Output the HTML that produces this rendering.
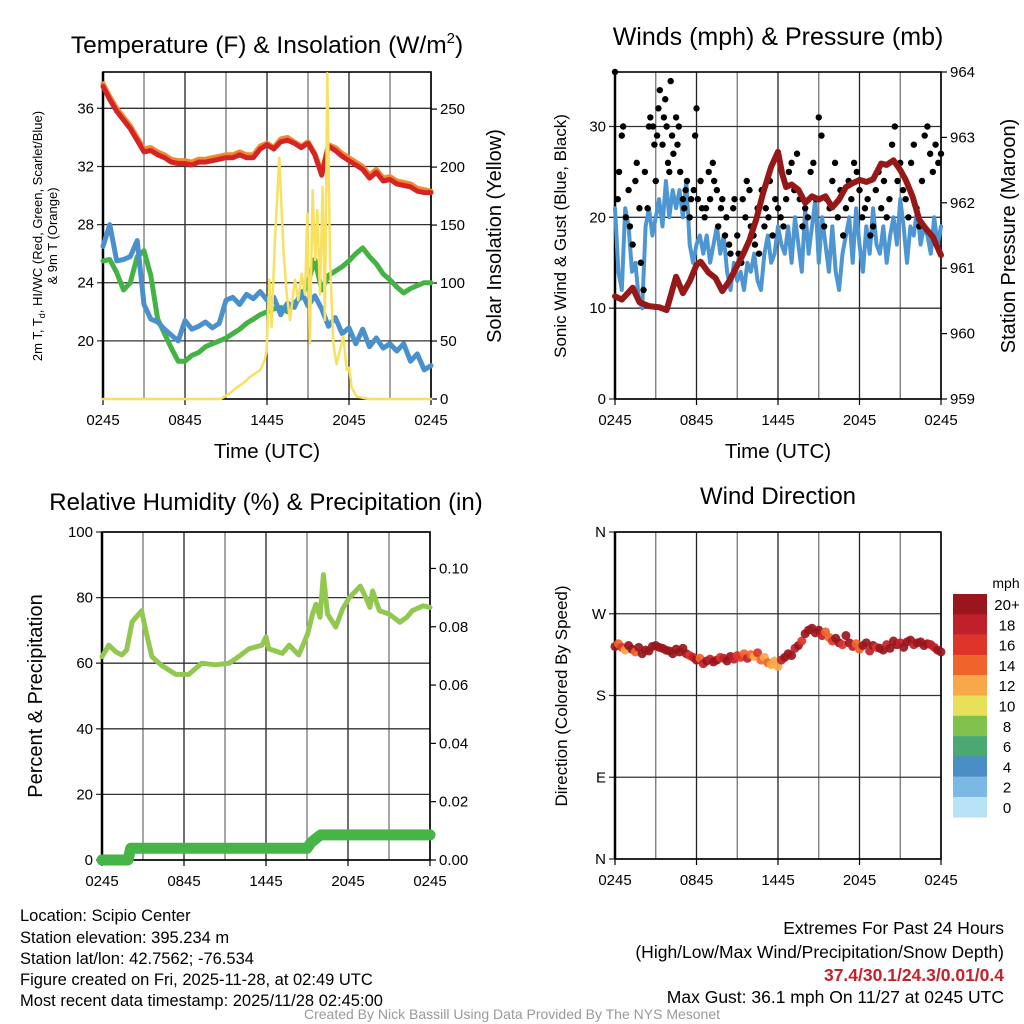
<!DOCTYPE html>
<html><head><meta charset="utf-8"><style>
html,body{margin:0;padding:0;background:#fff;}
svg{display:block;font-family:"Liberation Sans",Arial,sans-serif;}
</style></head><body>
<svg id="fig" width="1024" height="1024" viewBox="0 0 1024 1024" xmlns="http://www.w3.org/2000/svg">
<rect width="1024" height="1024" fill="#fff"/>
<g id="p1"></g>
<g id="p2"></g>
<g id="p3"></g>
<g id="p4"></g>

<text x="267" y="53" font-size="24.5" text-anchor="middle">Temperature (F) &amp; Insolation (W/m<tspan font-size="15" dy="-10">2</tspan><tspan dy="10">)</tspan></text>
<text x="778" y="45" font-size="25" text-anchor="middle">Winds (mph) &amp; Pressure (mb)</text>
<text x="266" y="510" font-size="24" text-anchor="middle">Relative Humidity (%) &amp; Precipitation (in)</text>
<text x="778" y="504" font-size="24" text-anchor="middle">Wind Direction</text>

<text transform="translate(42,236) rotate(-90)" font-size="13" text-anchor="middle">2m T, T<tspan font-size="9" dy="3">d</tspan><tspan dy="-3">, HI/WC (Red, Green, Scarlet/Blue)</tspan></text>
<text transform="translate(57,236) rotate(-90)" font-size="13" text-anchor="middle">&amp; 9m T (Orange)</text>
<text transform="translate(501,236) rotate(-90)" font-size="20" text-anchor="middle">Solar Insolation (Yellow)</text>
<text transform="translate(566,236) rotate(-90)" font-size="17" text-anchor="middle">Sonic Wind &amp; Gust (Blue, Black)</text>
<text transform="translate(1015,236) rotate(-90)" font-size="20" text-anchor="middle">Station Pressure (Maroon)</text>
<text transform="translate(42,696) rotate(-90)" font-size="20" text-anchor="middle">Percent &amp; Precipitation</text>
<text transform="translate(567,696) rotate(-90)" font-size="17" text-anchor="middle">Direction (Colored By Speed)</text>
<text x="267" y="458" font-size="20.5" text-anchor="middle">Time (UTC)</text>
<text x="778" y="458" font-size="20.5" text-anchor="middle">Time (UTC)</text>

<g font-size="16.5">
<text x="20" y="921">Location: Scipio Center</text>
<text x="20" y="943">Station elevation: 395.234 m</text>
<text x="20" y="964">Station lat/lon: 42.7562; -76.534</text>
<text x="20" y="985">Figure created on Fri, 2025-11-28, at 02:49 UTC</text>
<text x="20" y="1006">Most recent data timestamp: 2025/11/28 02:45:00</text>
</g>
<g font-size="17.5" text-anchor="end">
<text x="1004" y="934">Extremes For Past 24 Hours</text>
<text x="1004" y="958">(High/Low/Max Wind/Precipitation/Snow Depth)</text>
<text x="1004" y="981" fill="#c8202a" font-weight="bold">37.4/30.1/24.3/0.01/0.4</text>
<text x="1004" y="1003">Max Gust: 36.1 mph On 11/27 at 0245 UTC</text>
</g>
<text x="512" y="1019" font-size="14" fill="#999" text-anchor="middle">Created By Nick Bassill Using Data Provided By The NYS Mesonet</text>
</svg>
<script>
// ---------- data ----------
const hours30 = [0,0.5,1,1.5,2,2.5,3,3.5,4,4.5,5,5.5,6,6.5,7,7.5,8,8.5,9,9.5,10,10.5,11,11.5,12,12.5,13,13.5,14,14.5,15,15.5,16,16.5,17,17.5,18,18.5,19,19.5,20,20.5,21,21.5,22,22.5,23,23.5,24];
const tempRed = [37.5,36.6,35.8,35.2,34.6,33.8,33.0,33.1,32.8,32.6,32.3,32.2,32.2,32.1,32.3,32.3,32.4,32.5,32.6,32.6,32.8,32.6,32.6,33.2,33.5,33.2,33.7,33.8,33.6,33.3,33.6,32.8,31.4,33.4,33.1,32.7,32.4,32.1,31.8,31.2,31.6,31.0,31.1,30.8,30.7,30.6,30.3,30.2,30.2];
const tempOrange = [37.7,36.8,36.0,35.4,34.8,34.0,33.2,33.3,33.0,32.8,32.5,32.4,32.4,32.3,32.5,32.5,32.6,32.7,32.8,32.8,33.0,32.8,32.8,33.4,33.6,33.3,33.9,34.0,33.7,33.4,33.7,32.9,31.6,33.5,33.3,32.9,32.6,32.3,32.0,31.4,31.8,31.2,31.3,31.0,30.9,30.8,30.5,30.4,30.3];
const tempBlue = [26.5,28.0,25.5,25.6,25.8,26.9,22.5,21.5,21.3,20.8,20.4,20.0,21.4,20.8,21.0,21.3,20.9,21.2,22.8,23.0,22.5,23.2,22.9,23.4,22.8,23.0,21.8,22.6,22.3,23.4,22.4,23.1,22.2,21.0,21.6,20.5,20.9,19.8,20.8,19.6,20.2,19.5,19.8,19.3,19.8,18.6,19.1,18.0,18.3];
const tempGreen = [25.5,25.6,24.7,23.5,24.0,25.8,26.2,24.5,21.5,20.5,19.5,18.6,18.6,19.0,19.2,19.6,19.8,20.0,20.2,20.5,20.8,21.2,21.5,21.8,22.0,22.2,22.3,22.0,22.6,23.0,24.0,25.6,23.5,24.5,24.8,25.1,25.5,26.0,26.4,25.8,25.3,24.6,24.2,23.7,23.3,23.6,23.8,24.0,24.0];
const solarT = [0,8.6,9.29,9.8,10.3,10.75,11.5,11.85,11.97,12.17,12.34,12.58,12.9,13.19,13.44,13.68,14.05,14.29,14.53,14.78,14.95,15.14,15.34,15.53,15.68,15.88,16.07,16.24,16.41,16.61,16.85,17.09,17.58,17.83,18.02,18.19,18.56,19.5,24];
const solarV = [0,0,5,10,14,19,25,34,42,103,62,137,208,131,91,68,103,85,108,90,160,48,180,120,163,90,183,68,281,120,48,30,54,25,27,10,2,0,0];

const wind15 = [21,14,12,21,19,14,15,11,10,19,21,18,20,22,19,24,20,23,21,23,20,24,17,15,17,18,16,18,15,17,19,16,18,14,12,15,13,14,12,15,14,16,13,12,16,18,15,16,19,17,16,19,15,20,17,14,21,16,19,22,15,20,17,14,19,14,12,16,18,20,15,21,17,14,19,16,21,17,16,19,15,18,20,17,22,19,15,19,18,21,17,19,18,16,20,17,19];
const gustT = [0,0.2,0.3,0.5,0.6,0.8,1.0,1.1,1.3,1.5,1.6,1.8,1.9,2.1,2.2,2.4,2.5,2.6,2.8,2.9,3.0,3.1,3.2,3.3,3.5,3.6,3.7,3.8,3.9,4.0,4.1,4.2,4.3,4.5,4.6,4.7,4.8,5.0,5.1,5.2,5.3,5.5,5.6,5.8,5.9,6.0,6.1,6.3,6.4,6.6,6.7,6.9,7.0,7.2,7.3,7.5,7.6,7.8,7.9,8.1,8.2,8.4,8.5,8.7,8.8,9.0,9.1,9.3,9.4,9.6,9.7,9.9,10.0,10.2,10.3,10.5,10.6,10.8,11.0,11.1,11.3,11.4,11.6,11.8,12.0,12.2,12.4,12.6,12.8,13.0,13.2,13.4,13.6,13.8,14.0,14.2,14.4,14.6,14.8,15.0,15.2,15.4,15.6,15.8,16.0,16.2,16.4,16.6,16.8,17.0,17.2,17.4,17.6,17.8,18.0,18.2,18.4,18.6,18.8,19.0,19.2,19.4,19.6,19.8,20.0,20.2,20.4,20.6,20.8,21.0,21.2,21.4,21.6,21.8,22.0,22.2,22.4,22.6,22.8,23.0,23.2,23.4,23.6,23.8,24.0];
const gustV = [36,22,25,29,30,20,23,19,17,24,26,21,15,12,25,21,30,31,30,28,24,29,32,34,28,31,33,30,26,25,35,29,27,31,28,30,25,22,21,23,24,20,22,23,29,32,22,24,21,20,21,25,22,26,24,23,19,21,22,18,20,17,16,21,22,18,16,15,22,20,24,23,19,18,17,21,16,23,19,21,20,24,18,22,21,20,19,22,25,26,23,27,22,19,21,20,25,26,22,31,29,19,22,21,24,26,20,23,18,21,24,22,26,25,23,20,21,22,18,19,23,25,21,24,20,22,28,30,24,26,23,22,20,26,28,21,19,24,29,30,27,25,28,26,27];
const presT = [0,0.5,1.3,1.8,2.5,3.3,3.8,4.5,5.0,5.5,6.0,6.3,6.9,7.4,7.9,8.4,8.9,9.4,9.9,10.4,10.9,11.5,12.0,12.3,12.6,13.0,13.5,14.0,14.5,15.0,15.5,16.0,16.5,17.0,17.5,18.0,18.5,19.0,19.6,20.0,20.5,21.0,21.4,21.9,22.4,22.9,23.4,24.0];
const presV = [960.57,960.52,960.70,960.48,960.42,960.40,960.36,960.87,960.62,960.80,961.05,961.10,960.93,960.85,960.65,960.80,961.00,961.20,961.43,961.75,962.15,962.55,962.78,962.45,962.24,962.28,962.20,962.00,962.10,962.05,962.10,961.93,962.05,962.24,962.30,962.35,962.32,962.36,962.60,962.58,962.65,962.50,962.35,962.10,961.74,961.60,961.48,961.20];

const rhT = [0,0.5,1.0,1.45,1.8,2.2,2.9,3.2,3.65,4.4,5.4,6.35,7.3,8.3,9.3,10.0,10.75,11.7,12.0,12.2,13.2,13.7,14.4,15.05,15.4,15.66,15.95,16.2,16.5,17.1,17.6,18.1,18.9,19.3,19.6,19.8,20.3,21.0,21.8,22.3,22.7,23.5,24.0];
const rhV = [62,65.5,63.5,62.5,64,72.6,76,70,62,59.2,56.6,56.6,60,59.5,60,62,64.4,65.5,68,64.4,63,65.5,62.5,69,75,78,74,87,75,71,76.5,80,83.5,80,77,82,76,75,72.5,74,76,77.5,77];
const precipT = [0,1.9,2.1,15.0,15.3,15.7,16.0,24];
const precipV = [0,0,0.004,0.004,0.006,0.0075,0.0086,0.0086];

const dirT = [0,0.25,0.5,0.75,1,1.25,1.5,1.75,2,2.25,2.5,2.75,3,3.25,3.5,3.75,4,4.25,4.5,4.75,5,5.25,5.5,5.75,6,6.25,6.5,6.75,7,7.25,7.5,7.75,8,8.25,8.5,8.75,9,9.25,9.5,9.75,10,10.25,10.5,10.75,11,11.25,11.5,11.75,12,12.25,12.5,12.75,13,13.25,13.5,13.75,14,14.25,14.5,14.75,15,15.25,15.5,15.75,16,16.25,16.5,16.75,17,17.25,17.5,17.75,18,18.25,18.5,18.75,19,19.25,19.5,19.75,20,20.25,20.5,20.75,21,21.25,21.5,21.75,22,22.25,22.5,22.75,23,23.25,23.5,23.75,24];
const dirV = [234,237,233,230,235,231,228,233,226,230,229,234,235,233,232,230,229,226,231,228,232,226,224,222,219,221,215,218,220,217,219,222,221,218,223,220,224,222,226,221,225,223,227,219,222,216,214,218,212,219,222,226,224,232,235,240,248,252,254,249,252,246,250,244,240,243,238,236,246,238,234,237,231,235,238,229,235,233,232,230,236,232,240,236,238,233,239,241,236,238,239,235,237,236,233,230,228];
const dirS = [20,14,16,12,20,22,15,20,21,22,23,21,21,22,20,22,21,20,23,22,21,20,16,18,20,14,19,21,18,20,21,16,18,20,22,19,17,16,15,18,14,12,16,15,13,14,12,12,13,18,20,21,22,19,20,16,21,22,20,24,21,19,15,14,17,20,21,16,22,21,18,14,15,21,20,19,22,16,21,20,19,23,21,20,18,21,22,20,19,22,21,20,22,19,18,21,20];
const cbLabels = ["20+","18","16","14","12","10","8","6","4","2","0"];
const cbColors = ["#98161c","#c0202a","#de3429","#f0642b","#f8a848","#e8e058","#80c24c","#4aa872","#4a8ec6","#7cb8e4","#b8e2f6"];

const tLabels = ["0245","0845","1445","2045","0245"];
const p1LeftTicks = [20,24,28,32,36];
const p1RightTicks = [0,50,100,150,200,250];
const p2LeftTicks = [0,10,20,30];
const p2RightTicks = [959,960,961,962,963,964];
const p3LeftTicks = [0,20,40,60,80,100];
const p3RightTicks = [0,0.02,0.04,0.06,0.08,0.10];
const p4Ticks = [0,90,180,270,360];
const p4Labels = ["N","E","S","W","N"];

// ---------- helpers ----------
const NS="http://www.w3.org/2000/svg";
function mk(parent,tag,attrs){const e=document.createElementNS(NS,tag);for(const k in attrs)e.setAttribute(k,attrs[k]);parent.appendChild(e);return e;}
function lin(d0,d1,r0,r1){return v=>r0+(v-d0)*(r1-r0)/(d1-d0);}

function frame(g,x0,x1,y0,y1,yTicksL,ysL,fmtL,yTicksR,ysR,fmtR){
  const xs=lin(0,24,x0,x1);
  for(let h=0;h<=24;h+=3){
    const ln=mk(g,'line',{x1:xs(h),x2:xs(h),y1:y0,y2:y1,stroke:(h%6===0)?'#222':'#777','stroke-width':1.3});
    
    
  }
  yTicksL.forEach((v,i)=>{
    const y=ysL(v);
    const ln=mk(g,'line',{x1:x0-6,x2:x1,y1:y,y2:y,stroke:'#333','stroke-width':1.3});
    
    
    const t=mk(g,'text',{x:x0-9,y:y+5,'font-size':15,'text-anchor':'end'});
    t.textContent=fmtL(v,i);
    
    
  });
  if(yTicksR){yTicksR.forEach(v=>{
    const y=ysR(v);
    const ln=mk(g,'line',{x1:x1,x2:x1+6,y1:y,y2:y,stroke:'#000','stroke-width':1.2});
    
    
    const t=mk(g,'text',{x:x1+9,y:y+5,'font-size':15});
    t.textContent=fmtR(v);
    
    
  });}
  tLabels.forEach((s,i)=>{
    const x=xs(i*6);
    const tk=mk(g,'line',{x1:x,x2:x,y1:y1,y2:y1+6,stroke:'#000','stroke-width':1.2});
    
    
    const t=mk(g,'text',{x:x,y:y1+26,'font-size':15,'text-anchor':'middle'});
    t.textContent=s;
    
    
  });
  const r=mk(g,'rect',{x:x0,y:y0,width:x1-x0,height:y1-y0,fill:'none',stroke:'#000','stroke-width':1.6});
  
  
  mk(g,'line',{x1:x0,x2:x0,y1:y0,y2:y1,stroke:'#000','stroke-width':2.5});
  return xs;
}
function poly(g,xsArr,ysArr,xs,ys,color,w,name){
  const n=Math.min(xsArr.length,ysArr.length);
  const pts=[];
  for(let i=0;i<n;i++)pts.push(xs(xsArr[i]).toFixed(1)+','+ys(ysArr[i]).toFixed(1));
  const p=mk(g,'polyline',{points:pts.join(' '),fill:'none',stroke:color,'stroke-width':w,'stroke-linejoin':'round','stroke-linecap':'round'});
  
  
  return p;
}
const hours15 = wind15.map((_,i)=>i*0.25);

// ---------- panel 1 ----------
(function(){
  const g=document.getElementById('p1');
  const X0=103,X1=431,Y0=72,Y1=399;
  const yT=lin(16,38.5,Y1,Y0), yS=lin(0,282,Y1,Y0);
  const xs=frame(g,X0,X1,Y0,Y1,p1LeftTicks,yT,v=>String(v),p1RightTicks,yS,v=>String(v));
  poly(g,hours30,tempOrange,xs,yT,'#f08a30',5,'temp-9m-line');
  poly(g,hours30,tempRed,xs,yT,'#d42424',5,'temp-2m-line');
  poly(g,hours30,tempGreen,xs,yT,'#44b244',5,'dewpoint-line');
  poly(g,hours30,tempBlue,xs,yT,'#4a90cc',5,'heat-index-line');
  poly(g,solarT,solarV,xs,yS,'#f8e060',2.5,'solar-line');
})();
// ---------- panel 2 ----------
(function(){
  const g=document.getElementById('p2');
  const X0=615,X1=941,Y0=72,Y1=399;
  const yW=lin(0,36,Y1,Y0), yP=lin(959,964,Y1,Y0);
  const xs=frame(g,X0,X1,Y0,Y1,p2LeftTicks,yW,v=>String(v),p2RightTicks,yP,v=>String(v));
  poly(g,hours15,wind15,xs,yW,'#4e96d2',4,'sonic-wind-line');
  const n=Math.min(gustT.length,gustV.length);
  for(let i=0;i<n;i++){
    const c=mk(g,'circle',{cx:xs(gustT[i]),cy:yW(gustV[i]),r:3.2,fill:'#000'});
    
    
  }
  poly(g,presT,presV,xs,yP,'#961818',6,'pressure-line');
})();
// ---------- panel 3 ----------
(function(){
  const g=document.getElementById('p3');
  const X0=102,X1=430,Y0=532,Y1=860;
  const yR=lin(0,100,Y1,Y0), yPr=lin(0,0.1125,Y1,Y0);
  const xs=frame(g,X0,X1,Y0,Y1,p3LeftTicks,yR,v=>String(v),p3RightTicks,yPr,v=>v.toFixed(2));
  poly(g,rhT,rhV,xs,yR,'#92c850',5,'humidity-line');
  poly(g,precipT,precipV,xs,yPr,'#46b446',11,'precip-line');
})();
// ---------- panel 4 ----------
(function(){
  const g=document.getElementById('p4');
  const X0=615,X1=941,Y0=532,Y1=859;
  const yD=lin(0,360,Y1,Y0);
  const xs=frame(g,X0,X1,Y0,Y1,p4Ticks,yD,(v,i)=>p4Labels[i],null,null,null);
  dirT.forEach((t,i)=>{
    const s=dirS[i];
    const idx=Math.max(0,Math.min(10,10-Math.floor(s/2)));
    const c=mk(g,'circle',{cx:xs(t),cy:yD(dirV[i]),r:4.5,fill:cbColors[idx],'fill-opacity':0.92});
    
    
  });
  const cb=mk(g,'g',{});
  
  
  const t0=mk(cb,'text',{x:1006,y:588,'font-size':14,'text-anchor':'middle'});
  t0.textContent='mph';
  
  
  cbLabels.forEach((lab,i)=>{
    const y=594+i*20.3;
    const r=mk(cb,'rect',{x:953,y:y,width:34,height:20.5,fill:cbColors[i]});
    
    
    const t=mk(cb,'text',{x:1007,y:y+16,'font-size':15,'text-anchor':'middle'});
    t.textContent=lab;
    
    
  });
})();
</script>
</body></html>
